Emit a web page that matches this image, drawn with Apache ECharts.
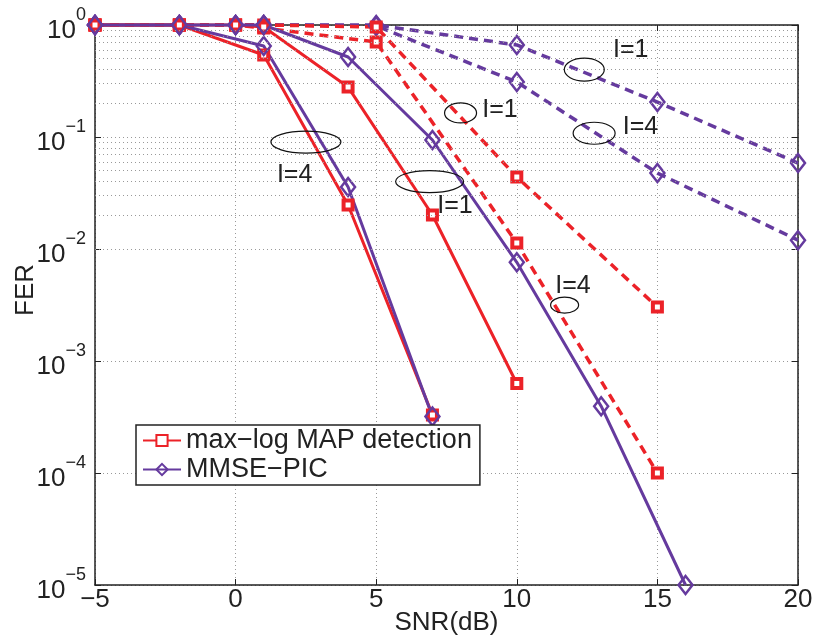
<!DOCTYPE html>
<html>
<head>
<meta charset="utf-8">
<script src="https://cdn.jsdelivr.net/npm/echarts@6/dist/echarts.min.js"></script>
<style>
  html, body { margin: 0; padding: 0; background: #fff; }
  #chart { width: 820px; height: 638px; }
</style>
</head>
<body>
<div id="chart"></div>
<script>
// SNR points (dB) and FER values
const snrRedI4 = [-5, -2, 1, 4, 7];
const ferRedI4 = [1, 1, 0.54, 0.0247, 3.3e-4];
const snrPurI4 = [-5, -2, 1, 4, 7];
const ferPurI4 = [1, 1, 0.65, 0.0357, 3.2e-4];
const snrRedI1 = [-5, -2, 0, 1, 4, 7, 10];
const ferRedI1 = [1, 1, 1, 0.96, 0.279, 0.0201, 6.3e-4];
const snrPurI1 = [-5, -2, 0, 1, 4, 7, 10, 13, 16];
const ferPurI1 = [1, 1, 1, 1, 0.518, 0.094, 0.0076, 3.95e-4, 1e-5];

const snrRedDashI1 = [-5, -2, 0, 1, 5, 10, 15];
const ferRedDashI1 = [1, 1, 1, 1, 0.96, 0.0439, 0.00303];
const snrRedDashI4 = [-5, -2, 0, 1, 5, 10, 15];
const ferRedDashI4 = [1, 1, 1, 0.94, 0.705, 0.0113, 1.0e-4];
const snrPurDashI1 = [-5, -2, 0, 1, 5, 10, 15, 20];
const ferPurDashI1 = [1, 1, 1, 1, 1, 0.663, 0.205, 0.0585];
const snrPurDashI4 = [-5, -2, 0, 1, 5, 10, 15, 20];
const ferPurDashI4 = [1, 1, 1, 1, 0.98, 0.31, 0.0476, 0.012];

// annotations: ellipse centre, label position (data coords) and text
const noteEllipseX = [2.5, 6.9, 8.0, 12.4, 12.75, 11.7];
const noteEllipseY = [0.090, 0.040, 0.164, 0.40, 0.108, 0.00316];
const noteLabelX = [2.1, 7.8, 9.4, 14.05, 14.4, 12.0];
const noteLabelY = [0.046, 0.024, 0.174, 0.60, 0.123, 0.00466];
const noteText = ['I=4', 'I=1', 'I=1', 'I=1', 'I=4', 'I=4'];
// ellipse radii in px (style)
const noteRadii = [[35, 11], [34, 11], [16, 10], [20, 11.5], [21, 11], [14, 8]];

const xTicks = [-5, 0, 5, 10, 15, 20];
const legendNames = ['max\u2212log MAP detection', 'MMSE\u2212PIC'];

const RED = '#EC2228';
const PURPLE = '#653A9E';
const FONT = '"Liberation Sans", Arial, Helvetica, sans-serif';
const TEXT = '#222';

const zip = (xs, ys) => xs.map((x, i) => [x, ys[i]]);

function redSeries(xs, ys, dashed) {
  return {
    name: legendNames[0],
    type: 'line',
    data: zip(xs, ys),
    clip: false,
    symbol: 'rect',
    symbolSize: 9,
    lineStyle: { color: RED, width: dashed ? 3.5 : 3, type: dashed ? [9, 6] : 'solid' },
    itemStyle: { color: '#fff', borderColor: RED, borderWidth: 4 },
    emphasis: { disabled: true }
  };
}

function purpleSeries(xs, ys, dashed) {
  return {
    name: legendNames[1],
    type: 'line',
    data: zip(xs, ys),
    clip: false,
    symbol: 'diamond',
    symbolSize: [14, 18],
    symbolKeepAspect: false,
    lineStyle: { color: PURPLE, width: dashed ? 3.5 : 3, type: dashed ? [9, 6] : 'solid' },
    itemStyle: { color: 'rgba(255,255,255,0)', borderColor: PURPLE, borderWidth: 2.5 },
    emphasis: { disabled: true }
  };
}

// minor log grid lines 2..9 in each decade
const minorLines = [];
for (let e = -5; e < 0; e++) {
  for (let m = 2; m <= 9; m++) minorLines.push({ yAxis: m * Math.pow(10, e) });
}

function supLabel(v) {
  const e = Math.round(Math.log10(v));
  return '{b|10}{e|' + (e < 0 ? '\u2212' + (-e) : e) + '}';
}

const chart = echarts.init(document.getElementById('chart'), null, { renderer: 'canvas' });

chart.setOption({
  animation: false,
  backgroundColor: '#fff',
  grid: { left: 95, right: 22, top: 25, bottom: 53, containLabel: false, outerBoundsMode: 'none' },
  legend: {
    data: legendNames,
    orient: 'vertical',
    left: 136,
    top: 425,
    itemWidth: 38,
    itemHeight: 14,
    itemGap: 2,
    padding: [2, 8, 2, 6],
    borderColor: '#222',
    borderWidth: 1.5,
    backgroundColor: '#fff',
    textStyle: { fontFamily: FONT, fontSize: 27, color: TEXT },
    selectedMode: false
  },
  xAxis: [{
    type: 'value',
    min: -5,
    max: 20,
    interval: 5,
    name: 'SNR(dB)',
    nameLocation: 'middle',
    nameGap: 25,
    nameMoveOverlap: false,
    nameTextStyle: { fontFamily: FONT, fontSize: 26, color: TEXT },
    axisLine: { onZero: false, lineStyle: { color: '#222', width: 1.5 } },
    axisTick: { inside: true, length: 6, lineStyle: { color: '#222' } },
    axisLabel: {
      margin: 2,
      fontFamily: FONT, fontSize: 26, color: TEXT,
      formatter: v => xTicks.includes(v) ? String(v).replace('-', '\u2212') : ''
    },
    splitLine: { show: true, lineStyle: { color: '#999', type: [1, 3], width: 1 } }
  }, {
    type: 'value',
    position: 'top',
    min: -5,
    max: 20,
    interval: 5,
    axisLine: { onZero: false, lineStyle: { color: '#222', width: 1.5 } },
    axisTick: { inside: true, length: 6, lineStyle: { color: '#222' } },
    axisLabel: { show: false },
    splitLine: { show: false }
  }],
  yAxis: [{
    type: 'log',
    logBase: 10,
    min: 1e-5,
    max: 1,
    name: 'FER',
    nameLocation: 'middle',
    nameRotate: 90,
    nameGap: 56,
    nameMoveOverlap: false,
    nameTextStyle: { fontFamily: FONT, fontSize: 26, color: TEXT, padding: [0, 0, 0, 30] },
    axisLine: { onZero: false, lineStyle: { color: '#222', width: 1.5 } },
    axisTick: { inside: true, length: 6, lineStyle: { color: '#222' } },
    axisLabel: {
      margin: 9,
      formatter: supLabel,
      rich: {
        b: { fontFamily: FONT, fontSize: 26, color: TEXT, padding: [12, 0, 0, 0] },
        e: { fontFamily: FONT, fontSize: 18, color: TEXT, verticalAlign: 'top' }
      }
    },
    splitLine: { show: true, lineStyle: { color: '#999', type: [1, 3], width: 1 } }
  }, {
    type: 'log',
    logBase: 10,
    min: 1e-5,
    max: 1,
    position: 'right',
    axisLine: { onZero: false, lineStyle: { color: '#222', width: 1.5 } },
    axisTick: { inside: true, length: 6, lineStyle: { color: '#222' } },
    axisLabel: { show: false },
    splitLine: { show: false }
  }],
  series: [
    {
      name: 'minor grid',
      type: 'line',
      data: [],
      silent: true,
      markLine: {
        silent: true,
        symbol: 'none',
        label: { show: false },
        lineStyle: { color: '#999', type: [1, 3], width: 1 },
        data: minorLines
      }
    },
    redSeries(snrRedI4, ferRedI4, false),
    purpleSeries(snrPurI4, ferPurI4, false),
    purpleSeries(snrPurDashI1, ferPurDashI1, true),
    purpleSeries(snrPurDashI4, ferPurDashI4, true),
    redSeries(snrRedDashI1, ferRedDashI1, true),
    redSeries(snrRedDashI4, ferRedDashI4, true),
    redSeries(snrRedI1, ferRedI1, false),
    purpleSeries(snrPurI1, ferPurI1, false),
    {
      name: 'notes',
      type: 'custom',
      silent: true,
      clip: false,
      z: 5,
      encode: { x: [0, 2], y: [1, 3] },
      data: noteText.map((t, i) => [noteEllipseX[i], noteEllipseY[i], noteLabelX[i], noteLabelY[i]]),
      renderItem: function (params, api) {
        const i = params.dataIndex;
        const c = api.coord([api.value(0), api.value(1)]);
        const l = api.coord([api.value(2), api.value(3)]);
        return {
          type: 'group',
          children: [{
            type: 'ellipse',
            shape: { cx: c[0], cy: c[1], rx: noteRadii[i][0], ry: noteRadii[i][1] },
            style: { fill: 'none', stroke: '#111', lineWidth: 1.2 }
          }, {
            type: 'text',
            x: l[0],
            y: l[1],
            style: {
              text: noteText[i],
              fontFamily: FONT,
              fontSize: 25,
              fill: TEXT,
              align: 'center',
              verticalAlign: 'middle'
            }
          }]
        };
      }
    }
  ]
});
</script>
</body>
</html>
